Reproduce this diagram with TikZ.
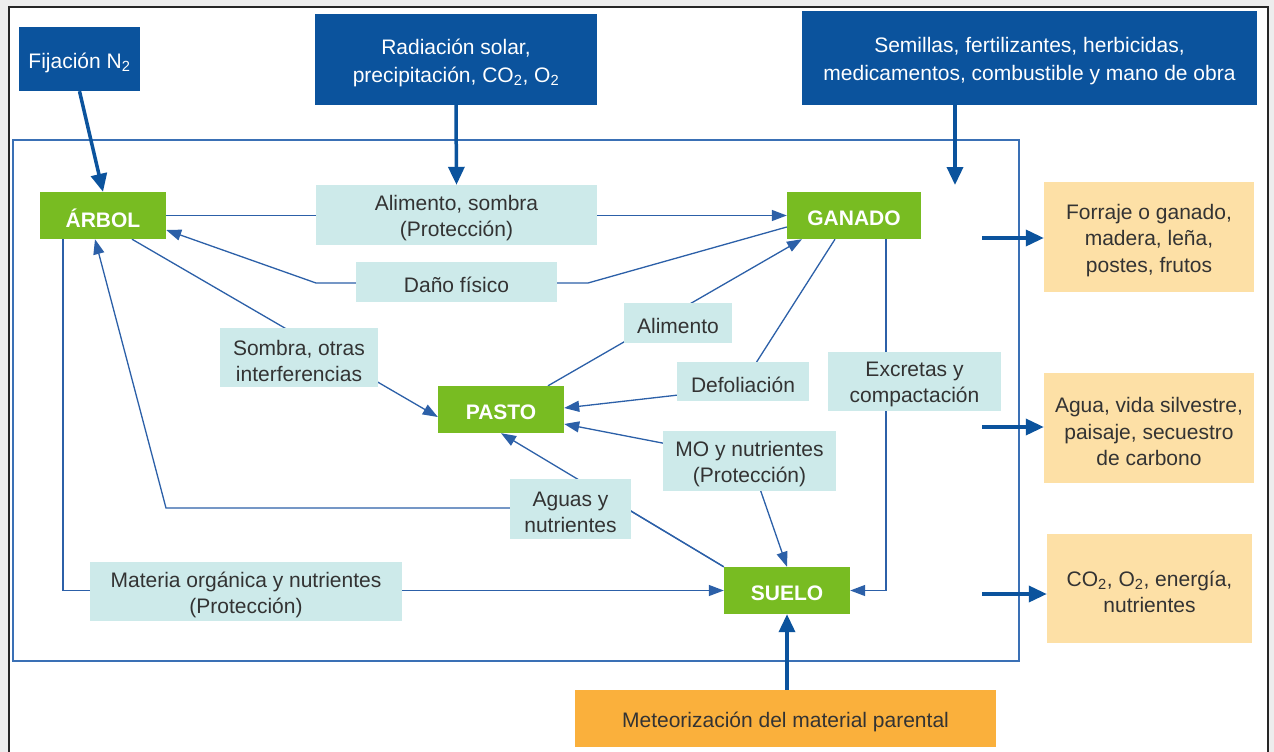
\documentclass[tikz,border=0pt]{standalone}
\usepackage{fontspec}
\setmainfont{Liberation Sans}
\usetikzlibrary{arrows.meta,calc}
\definecolor{dblue}{RGB}{11,83,157}
\definecolor{lblue}{RGB}{44,96,168}
\definecolor{framecol}{RGB}{58,112,181}
\definecolor{gboxcol}{RGB}{120,188,34}
\definecolor{cyanbox}{RGB}{205,234,234}
\definecolor{peach}{RGB}{253,224,166}
\definecolor{orangebox}{RGB}{250,176,60}
\definecolor{txt}{RGB}{51,51,51}
\pgfdeclarelayer{back}
\pgfdeclarelayer{lines}
\pgfsetlayers{back,lines,main}
\tikzset{
  tipA/.tip={Triangle[length=15pt,width=11pt]},
  tipB/.tip={Triangle[length=18pt,width=16pt]},
}
\begin{document}
\begin{tikzpicture}[x=1pt,y=-1pt,
  base/.style={inner sep=0pt},
  ttext/.style={inner sep=0pt, align=center, yshift=-3.5pt, text=white, font=\fontsize{21}{28}\selectfont},
  atext/.style={inner sep=0pt, align=center, yshift=-3pt, text=white, font=\fontsize{21}{26}\selectfont\bfseries},
  ltext/.style={inner sep=0pt, align=center, yshift=-3pt, text=txt, font=\fontsize{21}{26}\selectfont},
  otext/.style={inner sep=0pt, align=center, yshift=-3.5pt, text=txt, font=\fontsize{21}{26.5}\selectfont},
  topbox/.style={base, fill=dblue, label={[ttext]center:{#1}}},
  actor/.style={base, fill=gboxcol, label={[atext]center:{#1}}},
  lbl/.style={base, fill=cyanbox, label={[ltext]center:{#1}}},
  outbox/.style={base, fill=peach, label={[otext]center:{#1}}},
  meteobox/.style={base, fill=orangebox, label={[ltext]center:{#1}}},
  conn/.style={draw=lblue, line width=1.3pt, -tipA},
  bigarrow/.style={draw=dblue, line width=3.5pt, -tipB},
  frameline/.style={draw=framecol, line width=1.3pt},
]
\useasboundingbox (0,0) rectangle (1274,752);
\begin{pgfonlayer}{back}
\fill[black!7] (0,0) rectangle (1274,752);
\filldraw[fill=white, draw=black!85, line width=2pt] (9,7) rectangle (1268,775);
\draw[frameline] (13,140) rectangle (1019,661);
\end{pgfonlayer}

% top inputs
\node[topbox={Fijación N\textsubscript{2}}, minimum width=121pt, minimum height=64pt] (fij) at (79.5,59) {};
\node[topbox={Radiación solar,\\precipitación, CO\textsubscript{2}, O\textsubscript{2}}, minimum width=282pt, minimum height=91pt] (rad) at (456,59.5) {};
\node[topbox={Semillas, fertilizantes, herbicidas,\\medicamentos, combustible y mano de obra}, minimum width=455pt, minimum height=94pt] (sem) at (1029.5,58) {};

% actors
\node[actor={ÁRBOL}, minimum width=126pt, minimum height=47pt] (arbol) at (103,215.5) {};
\node[actor={GANADO}, minimum width=134pt, minimum height=47pt] (ganado) at (854,215.5) {};
\node[actor={PASTO}, minimum width=126pt, minimum height=47pt] (pasto) at (501,409.5) {};
\node[actor={SUELO}, minimum width=126pt, minimum height=47pt] (suelo) at (787,590.5) {};

% labels
\node[lbl={Alimento, sombra\\(Protección)}, minimum width=281pt, minimum height=60pt] (alisom) at (456.5,215) {};
\node[lbl={Daño físico}, minimum width=201pt, minimum height=40pt] (dano) at (456.5,282) {};
\node[lbl={Sombra, otras\\interferencias}, minimum width=158pt, minimum height=59pt] (sombra) at (299,357.5) {};
\node[lbl={Alimento}, minimum width=108pt, minimum height=40pt] (alim) at (678,323) {};
\node[lbl={Defoliación}, minimum width=132pt, minimum height=39pt] (defol) at (743,381.5) {};
\node[lbl={Excretas y\\compactación}, minimum width=173pt, minimum height=59pt] (excr) at (914.5,381.5) {};
\node[lbl={MO y nutrientes\\(Protección)}, minimum width=173pt, minimum height=60pt] (mo) at (749.5,461) {};
\node[lbl={Aguas y\\nutrientes}, minimum width=121pt, minimum height=60pt] (aguas) at (570.5,509) {};
\node[lbl={Materia orgánica y nutrientes\\(Protección)}, minimum width=312pt, minimum height=59pt] (materia) at (246,591.5) {};

% outputs
\node[outbox={Forraje o ganado,\\madera, leña,\\postes, frutos}, minimum width=210pt, minimum height=110pt] (forraje) at (1149,237) {};
\node[outbox={Agua, vida silvestre,\\paisaje, secuestro\\de carbono}, minimum width=210pt, minimum height=110pt] (agua) at (1149,428) {};
\node[outbox={CO\textsubscript{2}, O\textsubscript{2}, energía,\\nutrientes}, minimum width=205pt, minimum height=109pt] (co2) at (1149.5,588.5) {};
\node[meteobox={Meteorización del material parental}, minimum width=421pt, minimum height=57pt] (meteo) at (785.5,718.5) {};

% free ends
\coordinate (semend) at (955,185);
\coordinate (o1) at (982,238);
\coordinate (o2) at (982,427);
\coordinate (o3) at (982,594);
\coordinate (d1) at (588,283);
\coordinate (d2) at (316,283);
\coordinate (f1) at (740,388);
\coordinate (m1) at (750,460);
\coordinate (a1) at (626,508);
\coordinate (a2) at (166,508);

\begin{pgfonlayer}{lines}
\draw[bigarrow] (fij.south) -- (arbol.north);
\draw[bigarrow] (rad.south) -- (alisom.north);
\draw[bigarrow] (semend |- sem.south) -- (semend);
\draw[bigarrow] (o1) -- (o1 -| forraje.west);
\draw[bigarrow] (o2) -- (o2 -| agua.west);
\draw[bigarrow] (o3) -- (o3 -| co2.west);
\draw[bigarrow] (suelo.south |- meteo.north) -- (suelo.south);

\draw[conn] (arbol.east) -- (ganado.west);
\draw[conn] ($(ganado.west)+(0,11.5)$) -- (d1) -- (d2) -- ($(arbol.east)+(0,14.5)$);
\draw[conn] ($(arbol.south)+(29,0)$) -- ($(pasto.west)+(0,7.5)$);
\draw[conn] ($(pasto.north)+(47,0)$) -- ($(ganado.south)+(-52,0)$);
\draw[conn] ($(ganado.south)+(-19,0)$) -- (f1) -- ($(pasto.east)+(0,-1.5)$);
\draw[conn, tipA-tipA] ($(pasto.east)+(0,14.5)$) -- (m1) -- (suelo.north);
\draw[conn] (suelo.north west) -- (pasto.south);
\draw[conn] (suelo.north west) -- (a1) -- (a2) -- ($(arbol.south)+(-8,0)$);
\draw[conn] ($(arbol.south)+(-40,0)$) |- (suelo.west);
\draw[conn] ($(ganado.south)+(32,0)$) |- (suelo.east);
\end{pgfonlayer}
\end{tikzpicture}
\end{document}
